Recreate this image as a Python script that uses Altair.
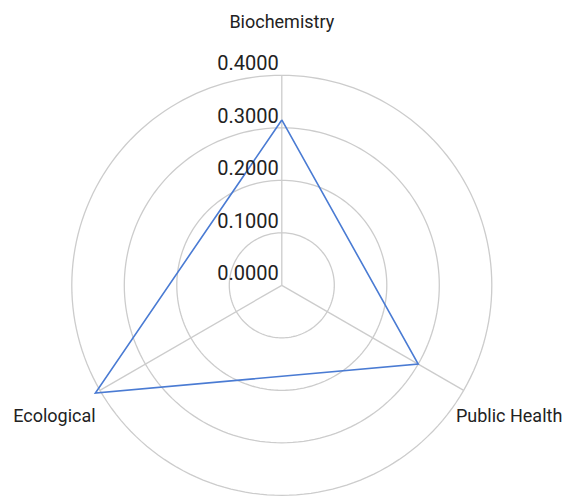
import altair as alt
import pandas as pd
import numpy as np

categories = ["Biochemistry", "Public Health", "Ecological"]
values = [0.315, 0.300, 0.410]
ticks = [0.0, 0.1, 0.2, 0.3, 0.4]
tick_labels = ["0.0000", "0.1000", "0.2000", "0.3000", "0.4000"]
label_r = 0.5

n = len(categories)
step = 360.0 / n

cat_df = pd.DataFrame({"category": categories, "value": values, "idx": list(range(n))})
poly_df = pd.concat([cat_df, cat_df.iloc[[0]].assign(idx=n)], ignore_index=True)
poly_df["order"] = range(len(poly_df))

ring_angles = np.arange(0, 361, 2)
ring_df = pd.DataFrame([(r, a) for r in ticks[1:] for a in ring_angles], columns=["r", "a"])
tick_df = pd.DataFrame({"tick": ticks, "label": tick_labels})
spoke_df = pd.DataFrame({"idx": list(range(n)), "r": [ticks[-1]] * n})

xs = alt.Scale(domain=[-0.5215, 0.5356], nice=False, zero=False)
ys = alt.Scale(domain=[-0.4051, 0.5282], nice=False, zero=False)

ang = f"PI*(90-{step}*datum.idx)/180"
FONT = "Roboto"
GRID = "#cccccc"

rings = alt.Chart(ring_df).mark_line(color=GRID, strokeWidth=1.3).transform_calculate(
    x="datum.r*cos(datum.a*PI/180)", y="datum.r*sin(datum.a*PI/180)"
).encode(
    x=alt.X("x:Q", scale=xs, axis=None),
    y=alt.Y("y:Q", scale=ys, axis=None),
    detail="r:N",
    order="a:Q",
)

spokes = alt.Chart(spoke_df).mark_rule(color=GRID, strokeWidth=1.3).transform_calculate(
    x0="0", y0="0", xe=f"datum.r*cos({ang})", ye=f"datum.r*sin({ang})"
).encode(
    x=alt.X("x0:Q", scale=xs, axis=None),
    y=alt.Y("y0:Q", scale=ys, axis=None),
    x2="xe:Q",
    y2="ye:Q",
)

poly = alt.Chart(poly_df).mark_line(color="#4a7bd3", strokeWidth=1.6).transform_calculate(
    x=f"datum.value*cos({ang})", y=f"datum.value*sin({ang})"
).encode(
    x=alt.X("x:Q", scale=xs, axis=None),
    y=alt.Y("y:Q", scale=ys, axis=None),
    order="order:Q",
)

tick_text = alt.Chart(tick_df).mark_text(
    align="right", baseline="alphabetic", dx=-3, dy=-5, font=FONT, fontSize=20, color="#222222"
).transform_calculate(x0="0").encode(
    x=alt.X("x0:Q", scale=xs, axis=None),
    y=alt.Y("tick:Q", scale=ys, axis=None),
    text="label:N",
)

cat_text = alt.Chart(cat_df).mark_text(
    align="center", baseline="middle", font=FONT, fontSize=18, color="#222222"
).transform_calculate(
    x=f"{label_r}*cos({ang})", y=f"{label_r}*sin({ang})"
).encode(
    x=alt.X("x:Q", scale=xs, axis=None),
    y=alt.Y("y:Q", scale=ys, axis=None),
    text="category:N",
)

chart = alt.layer(rings, spokes, poly, tick_text, cat_text).properties(
    width=555, height=490, padding=0, autosize="none"
).configure_view(stroke=None)

chart.save("out.html", embed_options={"renderer": "svg", "actions": False})
